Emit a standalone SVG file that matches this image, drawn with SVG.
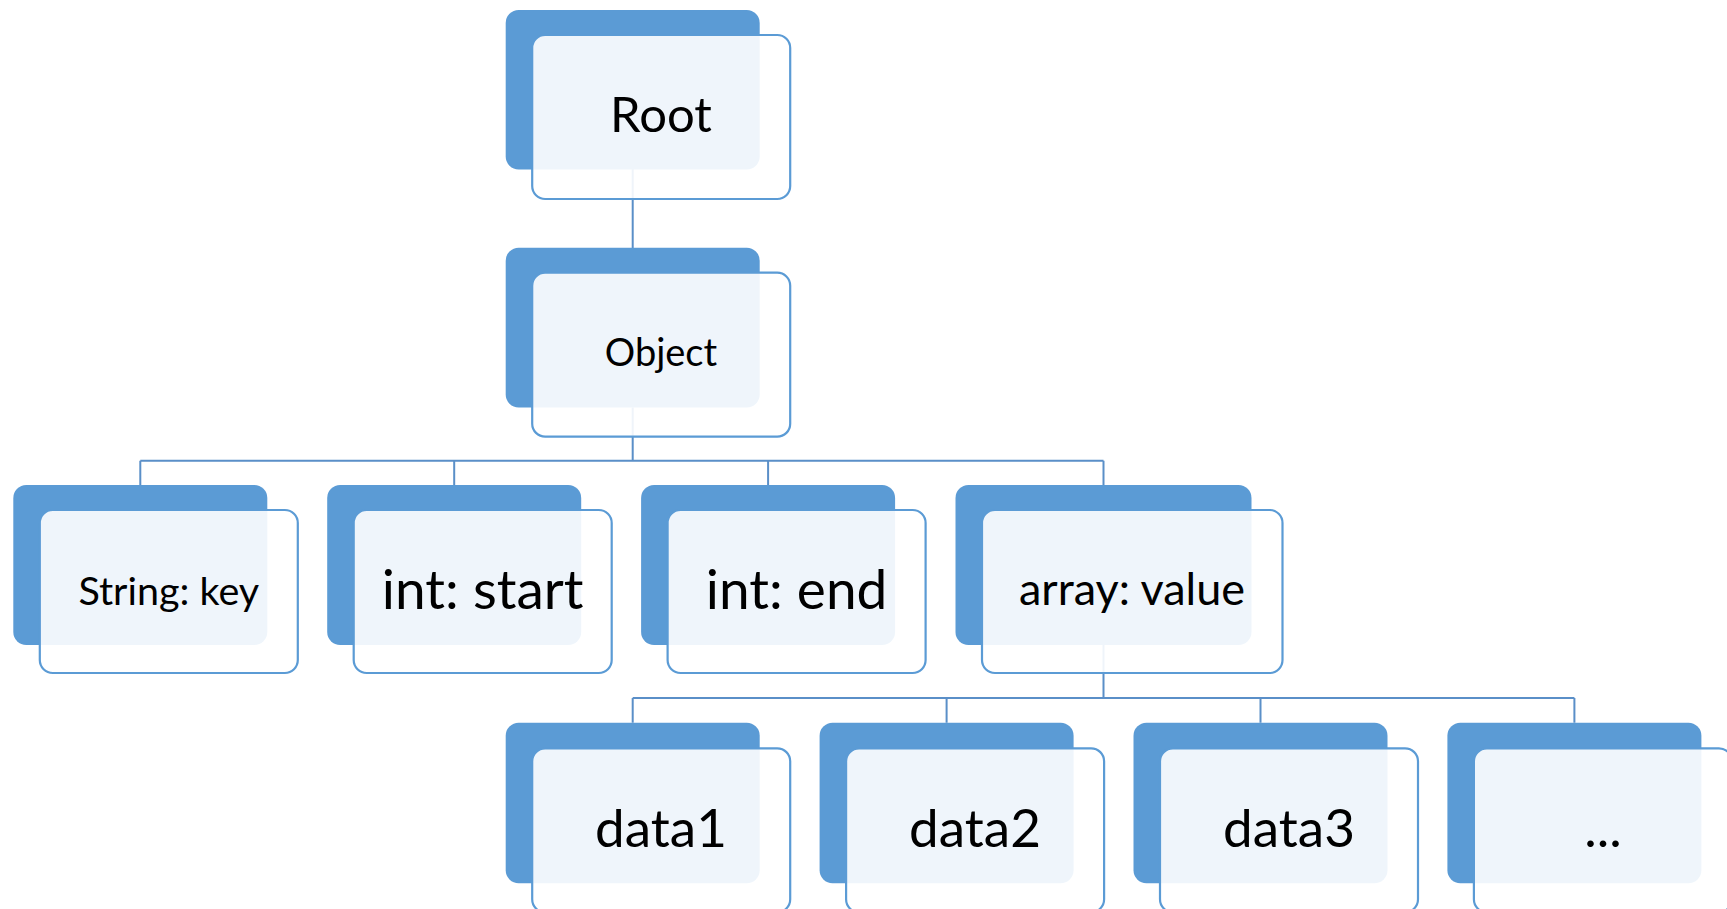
<svg xmlns="http://www.w3.org/2000/svg" width="1727" height="909" viewBox="0 0 1727 909">
  <style>
    .back { fill: #5B9BD5; }
    .front { fill: #FFFFFF; fill-opacity: 0.9; stroke: #5B9BD5; stroke-width: 2.2; }
    .wire { fill: none; stroke: #5A8FC8; stroke-width: 2; }
    .label { font-family: Lato, "Liberation Sans", sans-serif; fill: #000000; text-anchor: middle; }
  </style>
  <rect width="1727" height="909" fill="#FFFFFF"/>

  <!-- tree connectors, drawn beneath the cards -->
  <g id="connectors">
    <path class="wire" d="M632.7,169 V248"/>
    <path class="wire" d="M632.7,407.5 V460.7 M140.3,460.7 H1103.5 M140.3,460.7 V485 M454.2,460.7 V485 M768.1,460.7 V485 M1103.5,460.7 V485"/>
    <path class="wire" d="M1103.5,645 V698 M632.7,698 H1574.4 M632.7,698 V722.7 M946.6,698 V722.7 M1260.5,698 V722.7 M1574.4,698 V722.7"/>
  </g>

  <g id="root">
    <rect class="back" x="505.7" y="10" width="254" height="159.5" rx="13"/>
    <rect class="front" x="532.2" y="35" width="258" height="164" rx="13"/>
    <text class="label" x="661" y="132.3" font-size="49">Root</text>
  </g>

  <g id="object">
    <rect class="back" x="505.7" y="247.7" width="254" height="159.8" rx="13"/>
    <rect class="front" x="532.2" y="272.7" width="258" height="164" rx="13"/>
    <text class="label" x="661" y="365.7" font-size="38">Object</text>
  </g>

  <g id="string-key">
    <rect class="back" x="13.3" y="485" width="254" height="160" rx="13"/>
    <rect class="front" x="39.8" y="510" width="258" height="163" rx="13"/>
    <text class="label" x="168.8" y="605" font-size="39.5">String: key</text>
  </g>

  <g id="int-start">
    <rect class="back" x="327.2" y="485" width="254" height="160" rx="13"/>
    <rect class="front" x="353.7" y="510" width="258" height="163" rx="13"/>
    <text class="label" x="482.7" y="609" font-size="55">int: start</text>
  </g>

  <g id="int-end">
    <rect class="back" x="641.1" y="485" width="254" height="160" rx="13"/>
    <rect class="front" x="667.6" y="510" width="258" height="163" rx="13"/>
    <text class="label" x="796.6" y="609" font-size="55">int: end</text>
  </g>

  <g id="array-value">
    <rect class="back" x="955.5" y="485" width="296" height="160" rx="13"/>
    <rect class="front" x="982" y="510" width="300.5" height="163" rx="13"/>
    <text class="label" x="1132" y="605" font-size="45">array: value</text>
  </g>

  <g id="data1">
    <rect class="back" x="505.7" y="722.7" width="254" height="160.6" rx="13"/>
    <rect class="front" x="532.2" y="748.3" width="258" height="164" rx="13"/>
    <text class="label" x="661" y="846.7" font-size="53">data1</text>
  </g>

  <g id="data2">
    <rect class="back" x="819.6" y="722.7" width="254" height="160.6" rx="13"/>
    <rect class="front" x="846.1" y="748.3" width="258" height="164" rx="13"/>
    <text class="label" x="975" y="846.7" font-size="53">data2</text>
  </g>

  <g id="data3">
    <rect class="back" x="1133.5" y="722.7" width="254" height="160.6" rx="13"/>
    <rect class="front" x="1160" y="748.3" width="258" height="164" rx="13"/>
    <text class="label" x="1289" y="846.7" font-size="53">data3</text>
  </g>

  <g id="more">
    <rect class="back" x="1447.4" y="722.7" width="254" height="160.6" rx="13"/>
    <rect class="front" x="1473.9" y="748.3" width="258" height="164" rx="13"/>
    <text class="label" x="1603" y="846.7" font-size="53">...</text>
  </g>
</svg>
